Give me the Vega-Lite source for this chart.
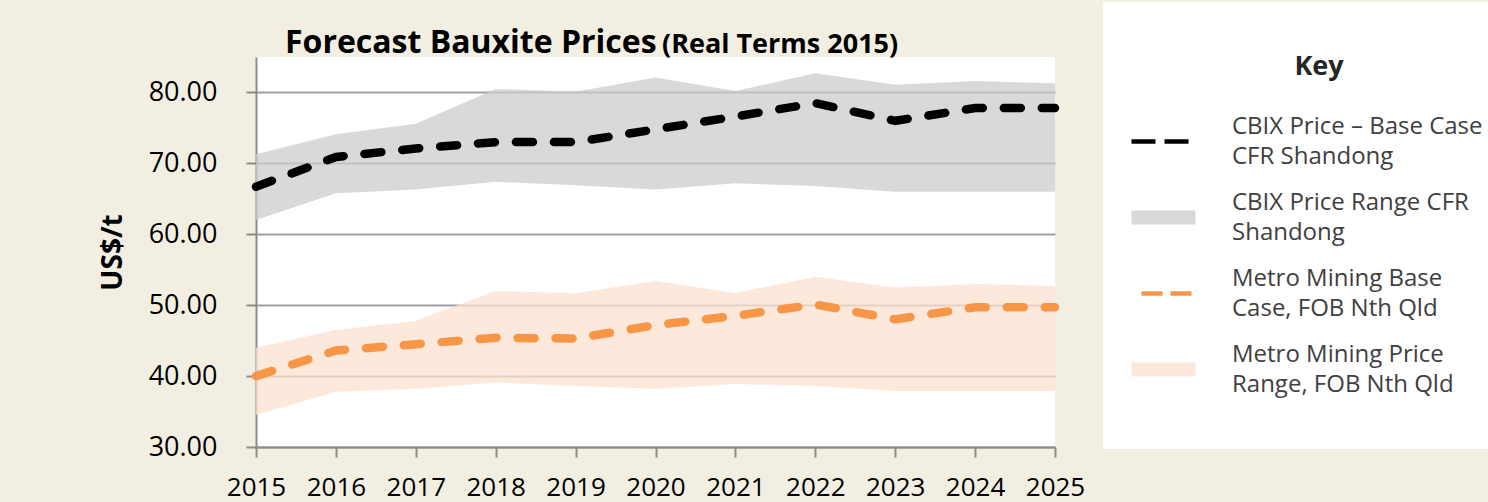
{
  "$schema": "https://vega.github.io/schema/vega-lite/v6.json",
  "width": 799,
  "height": 390,
  "autosize": {"type": "none"},
  "padding": {"left": 256, "top": 57, "right": 433, "bottom": 55},
  "background": "#f2efe2",
  "config": {
    "view": {"fill": "white", "stroke": null},
    "font": "Open Sans"
  },
  "title": {
    "text": "Forecast Bauxite Prices",
    "subtitle": "(Real Terms 2015)",
    "anchor": "start",
    "frame": "group",
    "align": "left",
    "font": "Open Sans",
    "fontSize": 32,
    "fontWeight": "bold",
    "color": "#000000",
    "subtitleFont": "Open Sans",
    "subtitleFontSize": 27,
    "subtitleFontWeight": "bold",
    "subtitleColor": "#000000",
    "subtitlePadding": -28,
    "dx": 29,
    "offset": -58,
    "encode": {"subtitle": {"update": {"dx": {"value": 406}}}}
  },
  "datasets": {
    "base": [
      {"year": 2015, "series": "CBIX Price – Base Case CFR Shandong", "price": 66.7},
      {"year": 2016, "series": "CBIX Price – Base Case CFR Shandong", "price": 70.9},
      {"year": 2017, "series": "CBIX Price – Base Case CFR Shandong", "price": 72.1},
      {"year": 2018, "series": "CBIX Price – Base Case CFR Shandong", "price": 73.0},
      {"year": 2019, "series": "CBIX Price – Base Case CFR Shandong", "price": 73.0},
      {"year": 2020, "series": "CBIX Price – Base Case CFR Shandong", "price": 74.8},
      {"year": 2021, "series": "CBIX Price – Base Case CFR Shandong", "price": 76.6},
      {"year": 2022, "series": "CBIX Price – Base Case CFR Shandong", "price": 78.5},
      {"year": 2023, "series": "CBIX Price – Base Case CFR Shandong", "price": 76.0},
      {"year": 2024, "series": "CBIX Price – Base Case CFR Shandong", "price": 77.8},
      {"year": 2025, "series": "CBIX Price – Base Case CFR Shandong", "price": 77.8},
      {"year": 2015, "series": "Metro Mining Base Case, FOB Nth Qld", "price": 40.0},
      {"year": 2016, "series": "Metro Mining Base Case, FOB Nth Qld", "price": 43.6},
      {"year": 2017, "series": "Metro Mining Base Case, FOB Nth Qld", "price": 44.5},
      {"year": 2018, "series": "Metro Mining Base Case, FOB Nth Qld", "price": 45.4},
      {"year": 2019, "series": "Metro Mining Base Case, FOB Nth Qld", "price": 45.3},
      {"year": 2020, "series": "Metro Mining Base Case, FOB Nth Qld", "price": 47.2},
      {"year": 2021, "series": "Metro Mining Base Case, FOB Nth Qld", "price": 48.5},
      {"year": 2022, "series": "Metro Mining Base Case, FOB Nth Qld", "price": 50.1},
      {"year": 2023, "series": "Metro Mining Base Case, FOB Nth Qld", "price": 48.0},
      {"year": 2024, "series": "Metro Mining Base Case, FOB Nth Qld", "price": 49.7},
      {"year": 2025, "series": "Metro Mining Base Case, FOB Nth Qld", "price": 49.7}
    ],
    "range": [
      {"year": 2015, "series": "CBIX Price Range CFR Shandong", "low": 62.0, "high": 71.3},
      {"year": 2016, "series": "CBIX Price Range CFR Shandong", "low": 65.8, "high": 74.1},
      {"year": 2017, "series": "CBIX Price Range CFR Shandong", "low": 66.3, "high": 75.6},
      {"year": 2018, "series": "CBIX Price Range CFR Shandong", "low": 67.4, "high": 80.5},
      {"year": 2019, "series": "CBIX Price Range CFR Shandong", "low": 66.9, "high": 80.1},
      {"year": 2020, "series": "CBIX Price Range CFR Shandong", "low": 66.3, "high": 82.1},
      {"year": 2021, "series": "CBIX Price Range CFR Shandong", "low": 67.2, "high": 80.2},
      {"year": 2022, "series": "CBIX Price Range CFR Shandong", "low": 66.8, "high": 82.7},
      {"year": 2023, "series": "CBIX Price Range CFR Shandong", "low": 66.0, "high": 81.1},
      {"year": 2024, "series": "CBIX Price Range CFR Shandong", "low": 66.0, "high": 81.6},
      {"year": 2025, "series": "CBIX Price Range CFR Shandong", "low": 66.0, "high": 81.3},
      {"year": 2015, "series": "Metro Mining Price Range, FOB Nth Qld", "low": 34.5, "high": 44.0},
      {"year": 2016, "series": "Metro Mining Price Range, FOB Nth Qld", "low": 37.8, "high": 46.5},
      {"year": 2017, "series": "Metro Mining Price Range, FOB Nth Qld", "low": 38.2, "high": 47.8},
      {"year": 2018, "series": "Metro Mining Price Range, FOB Nth Qld", "low": 39.1, "high": 52.0},
      {"year": 2019, "series": "Metro Mining Price Range, FOB Nth Qld", "low": 38.6, "high": 51.7},
      {"year": 2020, "series": "Metro Mining Price Range, FOB Nth Qld", "low": 38.2, "high": 53.4},
      {"year": 2021, "series": "Metro Mining Price Range, FOB Nth Qld", "low": 38.9, "high": 51.7},
      {"year": 2022, "series": "Metro Mining Price Range, FOB Nth Qld", "low": 38.6, "high": 54.0},
      {"year": 2023, "series": "Metro Mining Price Range, FOB Nth Qld", "low": 37.9, "high": 52.5},
      {"year": 2024, "series": "Metro Mining Price Range, FOB Nth Qld", "low": 37.9, "high": 53.0},
      {"year": 2025, "series": "Metro Mining Price Range, FOB Nth Qld", "low": 37.9, "high": 52.7}
    ]
  },
  "layer": [
    {
      "data": {"name": "range"},
      "mark": {"type": "area", "opacity": 0.75},
      "encoding": {
        "x": {
          "field": "year",
          "type": "quantitative",
          "scale": {"domain": [2015, 2025], "nice": false, "zero": false},
          "axis": {
            "values": [2015, 2016, 2017, 2018, 2019, 2020, 2021, 2022, 2023, 2024, 2025],
            "format": "d",
            "title": null,
            "grid": false,
            "labelFont": "Open Sans",
            "labelFontSize": 26,
            "labelColor": "#000000",
            "labelPadding": 17,
            "labelFlush": false,
            "labelOverlap": false,
            "tickSize": 10,
            "tickColor": "#8c8c8c",
            "tickWidth": 2,
            "domainColor": "#8c8c8c",
            "domainWidth": 2
          }
        },
        "y": {
          "field": "low",
          "type": "quantitative",
          "scale": {"domain": [30, 85], "nice": false, "zero": false},
          "axis": {
            "values": [30, 40, 50, 60, 70, 80],
            "format": ".2f",
            "title": "US$/t",
            "titleFont": "Open Sans",
            "titleFontSize": 28,
            "titleFontWeight": "bold",
            "titleColor": "#000000",
            "titlePadding": 21,
            "grid": true,
            "gridColor": "#a0a0a0",
            "gridWidth": 2,
            "labelFont": "Open Sans",
            "labelFontSize": 27,
            "labelColor": "#000000",
            "labelPadding": 29,
            "tickSize": 10,
            "tickColor": "#8c8c8c",
            "tickWidth": 2,
            "domainColor": "#8c8c8c",
            "domainWidth": 2
          }
        },
        "y2": {"field": "high"},
        "color": {
          "field": "series",
          "type": "nominal",
          "scale": {
            "domain": ["CBIX Price – Base Case CFR Shandong", "CBIX Price Range CFR Shandong", "Metro Mining Base Case, FOB Nth Qld", "Metro Mining Price Range, FOB Nth Qld"],
            "range": ["#000000", "#cccccc", "#f79646", "#fbe2d0"]
          },
          "legend": {
            "orient": "none",
            "legendX": 847,
            "legendY": -55,
            "title": "Key",
            "titleFont": "Open Sans",
            "titleFontSize": 27,
            "titleFontWeight": "bold",
            "titleColor": "#262626",
            "titleAnchor": "middle",
            "titlePadding": 26,
            "fillColor": "#ffffff",
            "padding": 52,
            "labelFont": "Open Sans",
            "labelFontSize": 24,
            "labelColor": "#404040",
            "labelLimit": 400,
            "labelOffset": 34,
            "rowPadding": 14,
            "symbolSize": 4096,
            "symbolStrokeWidth": 4.5,
            "symbolOffset": -26,
            "labelExpr": "datum.label == 'CBIX Price – Base Case CFR Shandong' ? ['CBIX Price – Base Case', 'CFR Shandong'] : datum.label == 'CBIX Price Range CFR Shandong' ? ['CBIX Price Range CFR', 'Shandong'] : datum.label == 'Metro Mining Base Case, FOB Nth Qld' ? ['Metro Mining Base', 'Case, FOB Nth Qld'] : ['Metro Mining Price', 'Range, FOB Nth Qld']",
            "encoding": {
              "symbols": {
                "shape": {"value": {"expr": "indexof(datum.value, 'Range') >= 0 ? 'M-1,-0.22H1V0.22H-1Z' : 'stroke'"}},
                "strokeOpacity": {"value": {"expr": "indexof(datum.value, 'Range') >= 0 ? 0 : 1"}},
                "fillOpacity": {"value": 0.75},
                "strokeDash": {"value": {"expr": "indexof(datum.value, 'Range') >= 0 ? [] : indexof(datum.value, 'Metro Mining Base') >= 0 ? [21, 8, 21, 100] : [24, 9, 24, 100]"}},
                "strokeDashOffset": {"value": {"expr": "indexof(datum.value, 'Metro Mining Base') >= 0 ? 140 : 0"}},
                "opacity": {"value": 1}
              },
              "labels": {
                "lineHeight": {"value": 30},
                "dy": {"value": -15}
              }
            }
          }
        }
      }
    },
    {
      "data": {"name": "base"},
      "mark": {"type": "line", "strokeWidth": 8.5, "strokeDash": [17, 21], "strokeCap": "round"},
      "encoding": {
        "x": {"field": "year", "type": "quantitative"},
        "y": {"field": "price", "type": "quantitative"},
        "color": {"field": "series", "type": "nominal"}
      }
    }
  ]
}
